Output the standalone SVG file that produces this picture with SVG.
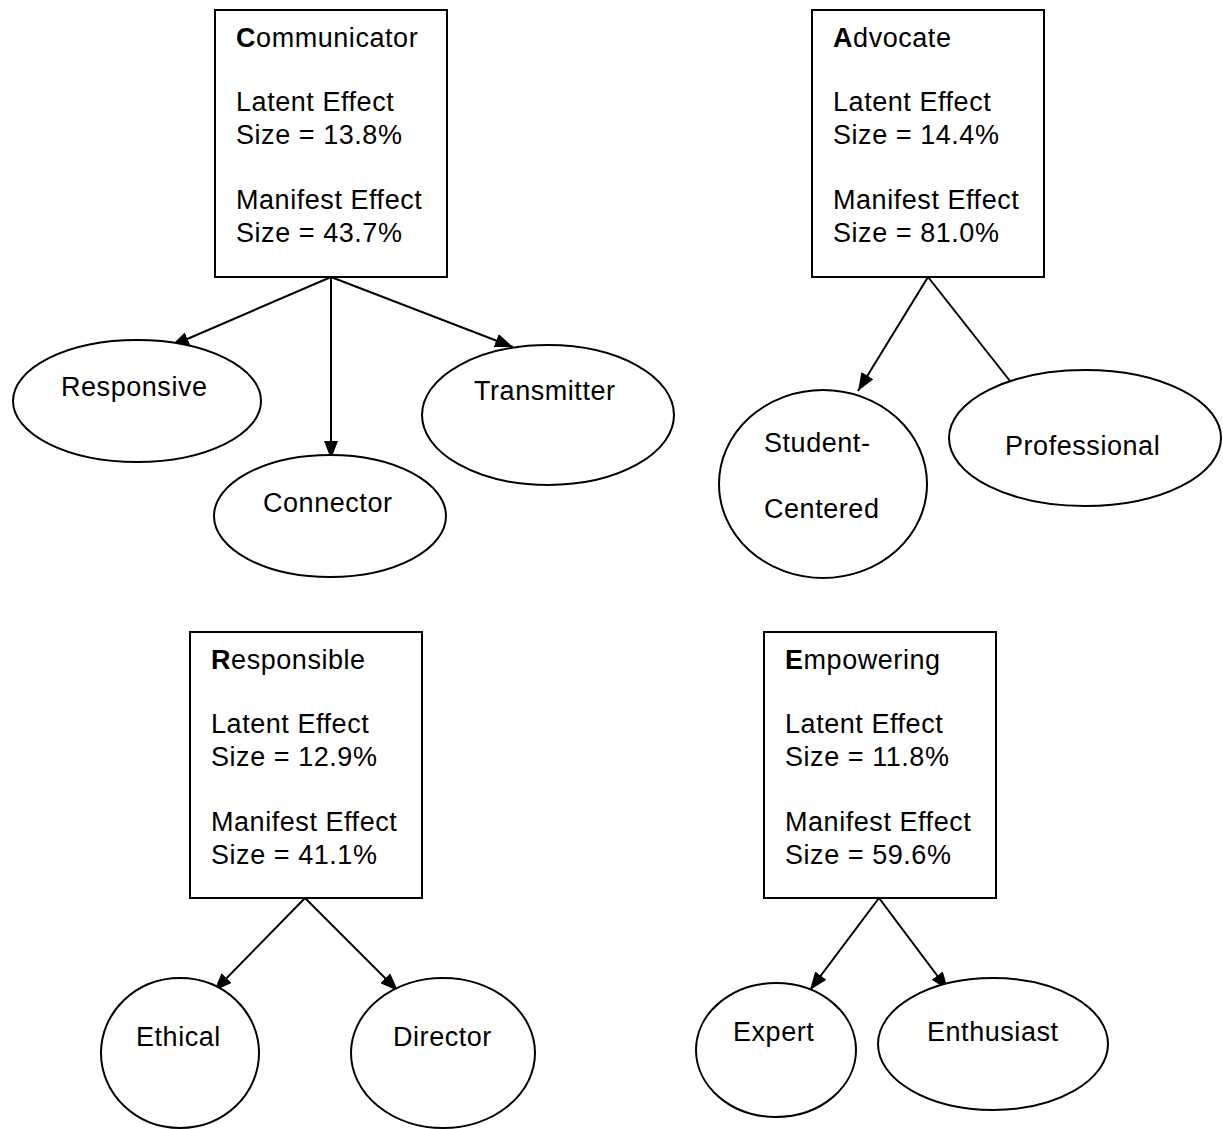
<svg xmlns="http://www.w3.org/2000/svg" width="1223" height="1129" viewBox="0 0 1223 1129">
<style>
text{font-family:"Liberation Sans",Arial,sans-serif;font-size:27px;letter-spacing:0.55px;fill:#000}
.box{fill:#fff;stroke:#000;stroke-width:2}
.ell{fill:#fff;stroke:#000;stroke-width:2}
.con{stroke:#000;stroke-width:2;fill:none}
.b{font-weight:bold}
</style>
<defs>
<marker id="ah" viewBox="0 0 18 14" refX="18" refY="7" markerWidth="18" markerHeight="14" markerUnits="userSpaceOnUse" orient="auto">
<path d="M0,0 L18,7 L0,14 z" fill="#000"/>
</marker>
</defs>
<rect width="1223" height="1129" fill="#fff"/>
<g id="connectors">
<line class="con" x1="331" y1="277" x2="171" y2="346" marker-end="url(#ah)"/>
<line class="con" x1="331" y1="277" x2="331" y2="459" marker-end="url(#ah)"/>
<line class="con" x1="331" y1="277" x2="513" y2="347" marker-end="url(#ah)"/>
<line class="con" x1="928" y1="277" x2="858" y2="391" marker-end="url(#ah)"/>
<line class="con" x1="928" y1="277" x2="1010" y2="381"/>
<line class="con" x1="305" y1="898" x2="214" y2="991" marker-end="url(#ah)"/>
<line class="con" x1="305" y1="898" x2="398" y2="991" marker-end="url(#ah)"/>
<line class="con" x1="879" y1="898" x2="810" y2="990" marker-end="url(#ah)"/>
<line class="con" x1="879" y1="898" x2="948" y2="990" marker-end="url(#ah)"/>
</g>
<g id="communicator">
<rect class="box" x="215" y="10" width="232" height="267"/>
<text x="236" y="47"><tspan class="b">C</tspan>ommunicator</text>
<text x="236" y="111">Latent Effect</text>
<text x="236" y="144">Size = 13.8%</text>
<text x="236" y="209">Manifest Effect</text>
<text x="236" y="242">Size = 43.7%</text>
</g>
<g id="advocate">
<rect class="box" x="812" y="10" width="232" height="267"/>
<text x="833" y="47"><tspan class="b">A</tspan>dvocate</text>
<text x="833" y="111">Latent Effect</text>
<text x="833" y="144">Size = 14.4%</text>
<text x="833" y="209">Manifest Effect</text>
<text x="833" y="242">Size = 81.0%</text>
</g>
<g id="responsible">
<rect class="box" x="190" y="632" width="232" height="266"/>
<text x="211" y="669"><tspan class="b">R</tspan>esponsible</text>
<text x="211" y="733">Latent Effect</text>
<text x="211" y="766">Size = 12.9%</text>
<text x="211" y="831">Manifest Effect</text>
<text x="211" y="864">Size = 41.1%</text>
</g>
<g id="empowering">
<rect class="box" x="764" y="632" width="232" height="266"/>
<text x="785" y="669"><tspan class="b">E</tspan>mpowering</text>
<text x="785" y="733">Latent Effect</text>
<text x="785" y="766">Size = 11.8%</text>
<text x="785" y="831">Manifest Effect</text>
<text x="785" y="864">Size = 59.6%</text>
</g>
<g id="responsive">
<ellipse class="ell" cx="137" cy="401" rx="124" ry="61"/>
<text x="61" y="396">Responsive</text>
</g>
<g id="connector">
<ellipse class="ell" cx="330" cy="516" rx="116" ry="61"/>
<text x="263" y="512">Connector</text>
</g>
<g id="transmitter">
<ellipse class="ell" cx="548" cy="415" rx="126" ry="70"/>
<text x="474" y="400">Transmitter</text>
</g>
<g id="student-centered">
<ellipse class="ell" cx="823" cy="484" rx="104" ry="94"/>
<text x="764" y="452">Student-</text>
<text x="764" y="518">Centered</text>
</g>
<g id="professional">
<ellipse class="ell" cx="1085" cy="438" rx="136" ry="68"/>
<text x="1005" y="455">Professional</text>
</g>
<g id="ethical">
<ellipse class="ell" cx="180" cy="1053" rx="79" ry="75"/>
<text x="136" y="1046">Ethical</text>
</g>
<g id="director">
<ellipse class="ell" cx="443" cy="1053" rx="92" ry="75"/>
<text x="393" y="1046">Director</text>
</g>
<g id="expert">
<ellipse class="ell" cx="776" cy="1050" rx="80" ry="67"/>
<text x="733" y="1041">Expert</text>
</g>
<g id="enthusiast">
<ellipse class="ell" cx="993" cy="1044" rx="115" ry="66"/>
<text x="927" y="1041">Enthusiast</text>
</g>
</svg>
